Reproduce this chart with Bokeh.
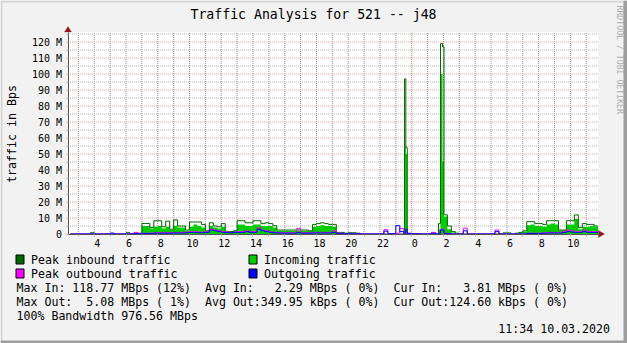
import re
import numpy as np
from math import pi
from bokeh.plotting import figure
from bokeh.models import Range1d, FixedTicker, Label, BoxAnnotation, PolyAnnotation
from bokeh.embed import file_html
from bokeh.resources import INLINE

# ---------------- data (values in M bytes/s) ----------------
# step start times in hours since midnight of day 1 (24 = 0:00 next day)
t_start = np.concatenate([
    np.arange(2.5, 23.5, 0.25),
    [23.5, 23.55, 23.63, 23.72],
    np.arange(24.0, 25.75, 0.25),
    [25.69, 25.815, 25.94, 26.035],
    np.arange(26.25, 35.75, 0.25),
])
t_last = 35.75

peak_in = [
    0, 0, 0,
    0, 0, 0.8, 0,
    0, 0, 0, 0,
    0, 0, 0, 0.8,
    0.3, 0.3, 0.5, 6.6,
    6.6, 4.0, 8.3, 8.3,
    4.5, 8.0, 3.0, 8.8,
    5.0, 5.0, 2.5, 7.5,
    7.5, 7.5, 6.0, 2.0,
    7.0, 5.0, 4.5, 6.5,
    1.5, 1.5, 2.0, 8.3,
    8.3, 7.0, 7.0, 8.3,
    8.3, 6.5, 7.0, 6.5,
    5.2, 2.5, 2.5, 2.5,
    2.5, 2.5, 2.5, 2.5,
    2.5, 2.0, 6.0, 6.5,
    7.0, 6.5, 6.0, 6.0,
    1.0, 1.0, 0.5, 0.8,
    0.8, 0.5, 0, 0,
    0, 0, 0, 0,
    0, 0, 0, 0,
    0, 0, 97, 54, 0.5, 0.3,
    0.3, 0, 0, 0,
    0, 0, 6.5, 119, 117, 12,
    5, 1.5, 0.5, 0,
    0, 0, 0, 0,
    0, 0, 0, 0,
    0, 0, 0.7, 0.7,
    0, 0.5, 1.0, 2.0,
    7.7, 7.7, 6.5, 6.5,
    6.0, 8.3, 8.3, 8.3,
    2.5, 2.5, 8.3, 8.3,
    11.9, 4.0, 6.5, 6.0,
    6.0, 5.0,
]

incoming = [
    0, 0, 0,
    0, 0, 0.3, 0,
    0, 0, 0, 0,
    0, 0, 0, 0.3,
    0.2, 0.2, 0.3, 5.0,
    5.0, 3.5, 4.5, 5.0,
    3.5, 4.5, 2.5, 5.0,
    4.0, 4.0, 2.0, 4.5,
    6.0, 5.0, 4.0, 1.8,
    5.0, 4.0, 3.5, 4.5,
    1.5, 1.5, 1.8, 6.0,
    6.0, 5.0, 5.0, 6.0,
    6.0, 5.0, 5.0, 5.0,
    4.0, 2.0, 2.0, 2.0,
    2.0, 2.0, 2.0, 2.0,
    2.0, 1.8, 4.5, 5.0,
    5.5, 5.0, 5.0, 4.5,
    0.5, 0.5, 0.3, 0.5,
    0.5, 0.3, 0, 0,
    0, 0, 0, 0,
    0, 0, 0, 0,
    0, 0, 55, 50, 0.3, 0.2,
    0.2, 0, 0, 0,
    0, 0, 3, 100, 45, 11,
    3, 1, 0.3, 0,
    0, 0, 0, 0,
    0, 0, 0, 0,
    0, 0, 0.3, 0.3,
    0, 0.4, 0.6, 1.5,
    5.5, 6.0, 5.0, 5.0,
    4.5, 6.0, 6.5, 6.0,
    2.3, 2.3, 6.0, 6.0,
    9.4, 3.0, 4.5, 4.5,
    5.0, 4.5,
]

peak_out = [
    0, 0, 0,
    0, 0, 0, 0,
    0, 0, 0, 0,
    0, 0, 0, 0,
    0, 1.0, 0.3, 0.5,
    0.5, 0.5, 0.8, 0.8,
    0.8, 1.0, 0.8, 1.0,
    1.0, 1.0, 1.2, 1.5,
    1.5, 1.2, 1.2, 1.5,
    3.0, 2.5, 2.0, 1.5,
    1.2, 1.0, 1.2, 1.5,
    1.5, 2.0, 1.5, 1.5,
    3.8, 2.5, 2.0, 1.5,
    1.0, 1.0, 0.8, 0.8,
    0.8, 0.8, 3.5, 0.8,
    0.8, 0.8, 1.0, 1.0,
    1.0, 1.0, 1.0, 2.0,
    0.5, 0.3, 0.3, 0.3,
    0.2, 0.2, 0, 0,
    0, 0, 0, 0,
    2.7, 0.3, 0.3, 0.5,
    3.5, 0.3, 1.0, 1.0, 0.3, 0.2,
    0.2, 0, 0, 0,
    1.0, 0, 1.0, 3.0, 3.0, 0.5,
    0.3, 0, 0, 0,
    3.7, 0, 0, 0,
    0, 0, 0, 0,
    2.5, 0, 0, 0,
    0, 0, 0, 0,
    0.5, 0.5, 0.5, 0.5,
    0.8, 1.0, 1.0, 1.0,
    1.0, 1.5, 2.5, 2.0,
    1.5, 1.5, 2.5, 1.5,
    1.5, 1.5,
]

outgoing = [
    0, 0, 0,
    0, 0, 0, 0,
    0, 0, 0, 0.6,
    0, 0, 0, 0,
    0, 0.3, 0.2, 0.3,
    0.3, 0.3, 0.5, 0.5,
    0.5, 0.5, 0.5, 0.6,
    0.6, 0.6, 0.8, 1.0,
    1.0, 0.8, 0.8, 1.0,
    2.5, 2.0, 1.5, 1.0,
    0.8, 0.8, 1.0, 1.0,
    1.0, 1.5, 1.0, 1.0,
    3.0, 2.0, 1.5, 1.0,
    0.7, 0.6, 0.5, 0.5,
    0.5, 0.5, 0.8, 0.5,
    0.5, 0.5, 0.6, 0.6,
    0.6, 0.6, 0.6, 1.0,
    0.3, 0.2, 0.2, 0.2,
    0.1, 0.1, 0, 0,
    0, 0, 0, 0,
    1.8, 0.2, 0.2, 5.2,
    1.5, 0.2, 0.5, 3.0, 0.2, 0.1,
    0.1, 0, 0, 0,
    0.5, 0, 0.5, 2.5, 2.5, 0.3,
    0.2, 0, 0, 0,
    2.0, 0, 0, 0,
    0, 0, 0, 0,
    1.5, 0, 0, 0,
    0, 0, 0, 0,
    0.3, 0.3, 0.3, 0.3,
    0.5, 0.6, 0.6, 0.6,
    0.6, 1.0, 1.5, 1.2,
    1.0, 1.0, 1.5, 1.0,
    1.0, 1.0,
]

label_hours = [4, 6, 8, 10, 12, 14, 16, 18, 20, 22, 24, 26, 28, 30, 32, 34]
x_labels = ["4", "6", "8", "10", "12", "14", "16", "18", "20", "22",
            "0", "2", "4", "6", "8", "10"]
grid_hours = list(range(3, 36))
midnight = [24]
y_major = [0, 10, 20, 30, 40, 50, 60, 70, 80, 90, 100, 110, 120]
y_labels = ["0", "10 M", "20 M", "30 M", "40 M", "50 M", "60 M", "70 M",
            "80 M", "90 M", "100 M", "110 M", "120 M"]
y_minor = [5, 15, 25, 35, 45, 55, 65, 75, 85, 95, 105, 115, 125]

title = "Traffic Analysis for 521 -- j48"
y_title = "traffic in Bps"
watermark = "RRDTOOL / TOBI OETIKER"
legend_items = [("Peak inbound traffic", "#006600"), ("Incoming traffic", "#00CC00"),
                ("Peak outbound traffic", "#FF00FF"), ("Outgoing traffic", "#0000FF")]
stats = ["Max In: 118.77 MBps (12%)  Avg In:   2.29 MBps ( 0%)  Cur In:   3.81 MBps ( 0%)",
         "Max Out:  5.08 MBps ( 1%)  Avg Out:349.95 kBps ( 0%)  Cur Out:124.60 kBps ( 0%)",
         "100% Bandwidth 976.56 MBps"]
stamp = "11:34 10.03.2020"

for s in (peak_in, incoming, peak_out, outgoing):
    assert len(s) == len(t_start), (len(s), len(t_start))

t_end = np.append(t_start[1:], t_last)


def steps(v):
    xs = np.column_stack([t_start, t_end]).ravel()
    ys = np.repeat(np.asarray(v, float), 2)
    return xs, ys


def keep_spaces(s):
    # SVG collapses runs of spaces; keep the monospace columns aligned
    return re.sub(r" {2,}", lambda m: "\u00a0" * (len(m.group(0)) - 1) + " ", s)


# ---------------- layout (page pixels) ----------------
W, H = 627, 343
FL, FB = 67.5, 233.5          # left / bottom edge of the plotting area
X0, X1 = 2.343, 35.74         # hours shown
Y1 = 126.25                   # top of value axis (M)
PXH = 530 / (X1 - X0)         # px per hour
PXM = 1.6                     # px per M
MONO = "DejaVu Sans Mono"


def cx(X):
    return X0 + (X - FL) / PXH


def cy(Y):
    return (FB - Y) / PXM


p = figure(width=W, height=H, x_range=Range1d(cx(0), cx(W)), y_range=Range1d(cy(H), cy(0)),
           output_backend="svg", toolbar_location=None,
           min_border_left=0, min_border_right=0, min_border_top=0, min_border_bottom=0,
           background_fill_color="#F2F2F2", border_fill_color="#F2F2F2",
           outline_line_color=None)
p.xgrid.visible = False
p.ygrid.visible = False

# plotting canvas
p.quad(left=X0, right=X1, bottom=0, top=Y1, fill_color="white", line_color=None)

# grid
GRID_C, VGRID_C, MGRID_C = "#B4B4B4", "#8E8E8E", "#E8A0A0"
vh = [h for h in grid_hours if h not in midnight]
p.segment(x0=vh, y0=[0] * len(vh), x1=vh, y1=[Y1] * len(vh),
          line_color=VGRID_C, line_dash="1 1", line_width=1)
p.segment(x0=[X0] * len(y_minor), y0=y_minor, x1=[X1] * len(y_minor), y1=y_minor,
          line_color=GRID_C, line_dash="1 1", line_width=1)
p.segment(x0=[X0] * (len(y_major) - 1), y0=y_major[1:], x1=[X1] * (len(y_major) - 1), y1=y_major[1:],
          line_color=MGRID_C, line_dash="1 1", line_width=1)
p.segment(x0=midnight, y0=[0], x1=midnight, y1=[Y1],
          line_color="#D87070", line_dash="1 1", line_width=1)

# data
ax_, ay_ = steps(incoming)
p.varea(x=ax_, y1=0, y2=ay_, fill_color="#00CC00", fill_alpha=1)
for series, col in ((peak_in, "#006600"), (peak_out, "#FF00FF"), (outgoing, "#0000FF")):
    lx, ly = steps(series)
    p.line(lx, ly, line_color=col, line_width=1)

# axes (drawn at the plot area's edges)
xa = p.xaxis[0]
xa.fixed_location = 0
xa.bounds = (X0, X1)
xa.ticker = FixedTicker(ticks=label_hours, minor_ticks=grid_hours)
xa.major_label_overrides = {h: "\u00a0" + s for h, s in zip(label_hours, x_labels)}
ya = p.yaxis[0]
ya.fixed_location = X0
ya.bounds = (0, Y1)
ya.ticker = FixedTicker(ticks=y_major, minor_ticks=y_minor)
ya.major_label_overrides = {v: s for v, s in zip(y_major, y_labels)}
for ax in (xa, ya):
    ax.axis_line_color = "#555555"
    ax.axis_line_width = 1
    ax.major_label_text_font = MONO
    ax.major_label_text_font_size = "10px"
    ax.major_label_text_color = "black"
    ax.major_tick_in = 0
    ax.minor_tick_in = 0
    ax.major_tick_out = 2
    ax.minor_tick_out = 2
    ax.minor_tick_line_color = GRID_C
xa.major_tick_line_color = GRID_C
ya.major_tick_line_color = MGRID_C
xa.major_label_standoff = 2
ya.major_label_standoff = 4

# arrows
ARROW = "#8B1A1A"
p.add_layout(PolyAnnotation(xs=[cx(64), cx(67.5), cx(71)], ys=[cy(31.5), cy(26), cy(31.5)],
                            fill_color=ARROW, fill_alpha=1, line_color=ARROW, line_width=1))
p.add_layout(PolyAnnotation(xs=[cx(598), cx(604), cx(598)], ys=[cy(230), cy(233.5), cy(237)],
                            fill_color=ARROW, fill_alpha=1, line_color=ARROW, line_width=1))


def box(l, t, r, b, fill, line=None):
    p.add_layout(BoxAnnotation(left=cx(l), right=cx(r), top=cy(t), bottom=cy(b),
                               fill_color=fill, fill_alpha=1,
                               line_color=line if line else fill, line_alpha=1 if line else 0,
                               line_width=1))


# 3d border
box(0, 0, W, 2, "#D4D4D4")
box(0, 0, 2, H, "#D4D4D4")
box(W - 4, 0, W, H, "#9E9E9E")
box(0, H - 3, W, H, "#9E9E9E")


def lab(X, Y, text, size="11.6px", align="left", angle=0.0, color="black"):
    p.add_layout(Label(x=cx(X), y=cy(Y), text=keep_spaces(text), text_font=MONO,
                       text_font_size=size, text_align=align, text_baseline="middle",
                       angle=angle, text_color=color))


lab(313, 13.5, title, size="13.2px", align="center")
lab(11.5, 133.5, y_title, align="center", angle=pi / 2)
lab(619.5, 5, watermark, size="8.2px", angle=-pi / 2, color="#ABABAB")

rows = [259, 259, 273, 273]
cols = [(15.5, 30.5), (248.5, 263.5), (15.5, 30.5), (248.5, 263.5)]
for (name, col), Y, (bx, tx) in zip(legend_items, rows, cols):
    box(bx, Y - 4.5, bx + 8, Y + 4.5, col, "black")
    lab(tx, Y, name)

for Y, s in zip([287.3, 301.3, 315.3], stats):
    lab(16, Y, s)
lab(609.5, 328.5, stamp, align="right")

open("out.html", "w").write(file_html(p, INLINE))
